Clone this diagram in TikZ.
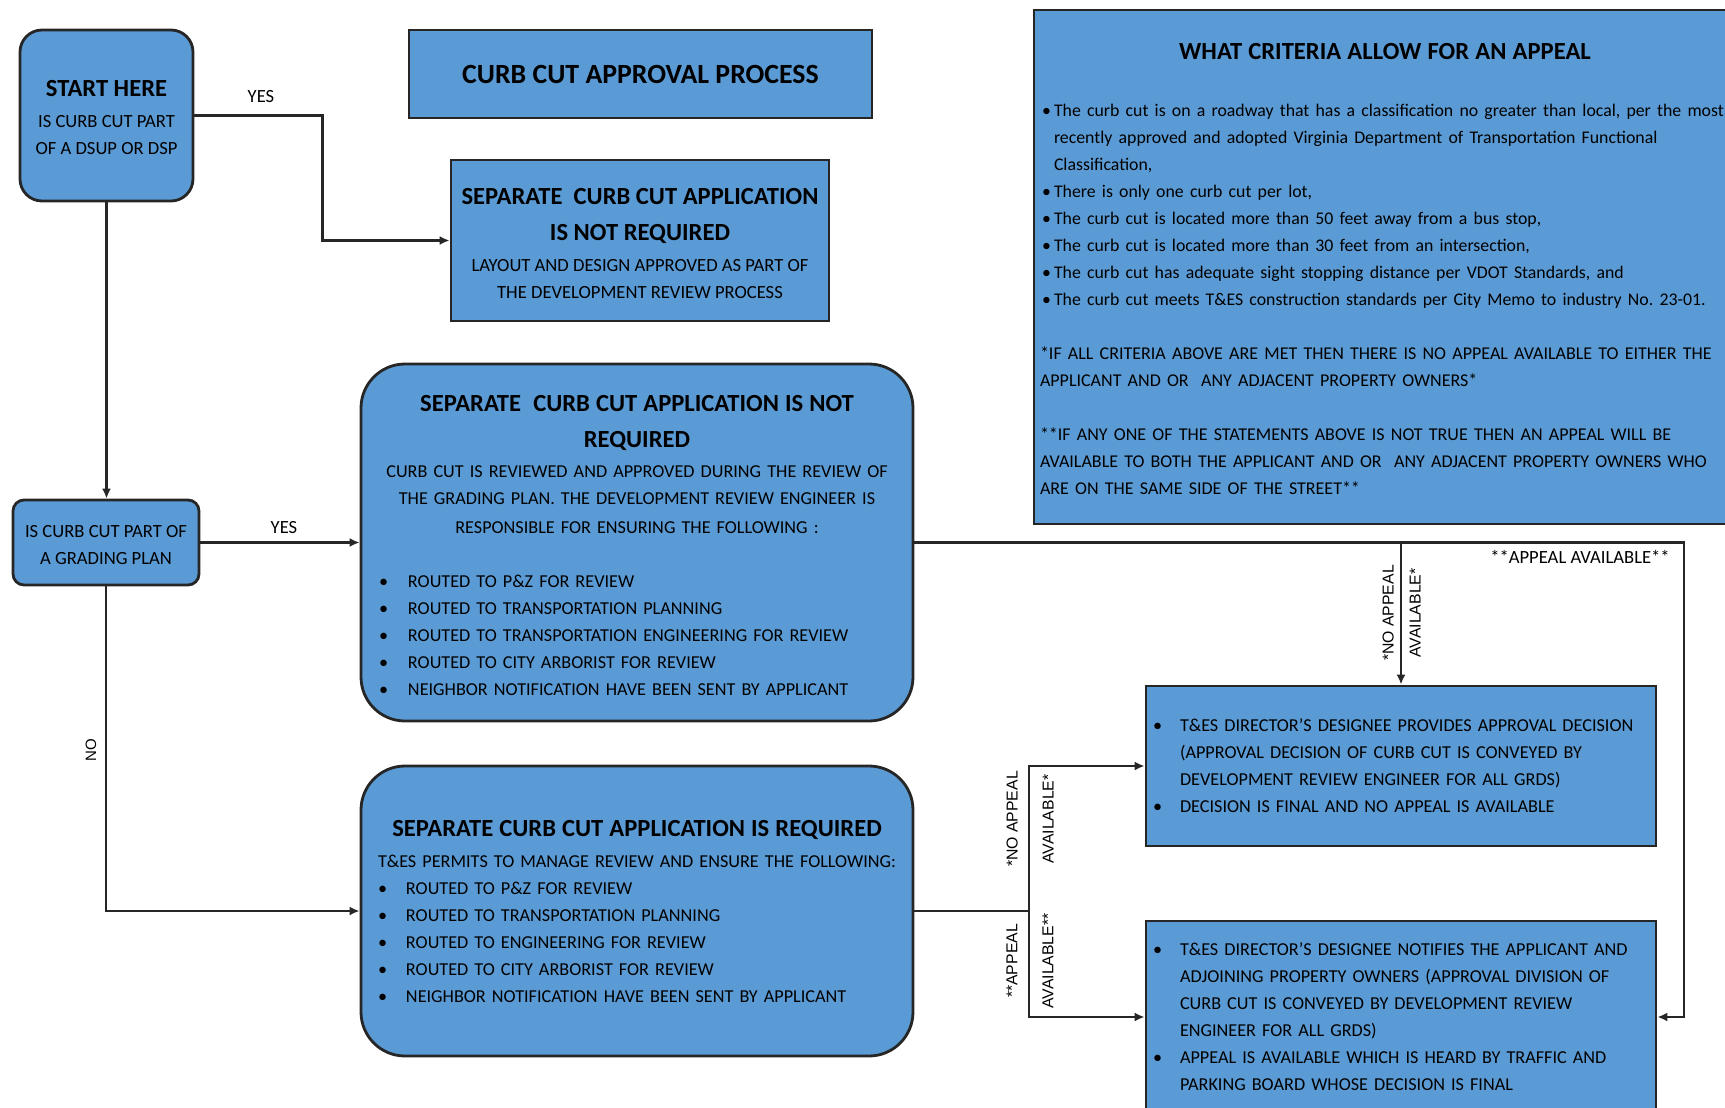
\documentclass[tikz,border=0pt]{standalone}
\usepackage{fontspec}
\setmainfont{Carlito}
\newfontfamily\arialfont{Liberation Sans}
\usetikzlibrary{arrows.meta,positioning}
\definecolor{curbblue}{HTML}{5B9BD5}

\newcommand{\hdr}{\bfseries\fontsize{12.3}{18}\selectfont}
\newcommand{\bodyfont}{\fontsize{9.3}{13.5}\selectfont}
\newcommand{\listfont}{\fontsize{9.1}{13.5}\selectfont}
\newcommand{\critfont}{\fontsize{8.9}{13.5}\selectfont}
% one left-aligned line, and one bullet line: indent, bullet room, text
\newcommand{\lline}[1]{\makebox[\linewidth][l]{#1}}
\newcommand{\bitem}[3]{\makebox[\linewidth][l]{\hspace{#1}\makebox[#2][l]{\textbullet}#3}}
% raises the top line a little, so the text sits lower in its box
\newcommand{\topgap}[1]{\rule{0pt}{#1}}

\tikzset{
  flow box/.style={
    draw=black!85,
    line width=1.4pt,
    fill=curbblue,
    inner sep=0pt,
    font=\bodyfont,
    align=center,
  },
  round box/.style={
    flow box,
    rounded corners=#1,
  },
  link/.style={
    draw=black!85,
    line width=1.1pt,
  },
  arrow/.style={
    link,
    -{Latex[length=5pt,width=4.5pt]},
  },
  tag/.style={
    font=\bodyfont,
  },
  side tag/.style={
    font=\arialfont\fontsize{7.9}{#1}\selectfont,
    rotate=90,
    align=center,
  }
}

\begin{document}
\begin{tikzpicture}[x=0.5pt,y=-0.5pt]
        \useasboundingbox (0,0) rectangle (1725,1108);

        \node [round box=11pt, minimum width=86.5pt, minimum height=85.5pt] (start) at (106.5,115.5)
          {\topgap{10pt}{\hdr START HERE}\\[2pt] IS CURB CUT PART\\OF A DSUP OR DSP};
        \node [flow box, minimum width=231.5pt, minimum height=44pt] (title) at (640.5,74)
          {\topgap{9pt}{\hdr\fontsize{13.9}{18}\selectfont CURB CUT APPROVAL PROCESS}};
        \node [flow box, minimum width=189pt, minimum height=80.5pt] (nosep) at (640,240.5)
          {\topgap{11.1pt}{\hdr SEPARATE\ \ CURB CUT APPLICATION}\\[4.5pt]{\hdr IS NOT REQUIRED}\\[2pt]
           LAYOUT AND DESIGN APPROVED AS PART OF\\THE DEVELOPMENT REVIEW PROCESS};
        \node [flow box, text width=345pt, inner xsep=3pt, minimum height=257pt] (criteria) at (1385,267)
          {\topgap{10.2pt}{\hdr WHAT CRITERIA ALLOW FOR AN APPEAL}\\[15pt]
           \critfont
           \bitem{1pt}{6pt}{The curb cut is on a roadway that has a classification no greater than local, per the most}\\
           \lline{\hspace{7pt}recently approved and adopted Virginia Department of Transportation Functional}\\
           \lline{\hspace{7pt}Classification,}\\
           \bitem{1pt}{6pt}{There is only one curb cut per lot,}\\
           \bitem{1pt}{6pt}{The curb cut is located more than 50 feet away from a bus stop,}\\
           \bitem{1pt}{6pt}{The curb cut is located more than 30 feet from an intersection,}\\
           \bitem{1pt}{6pt}{The curb cut has adequate sight stopping distance per VDOT Standards, and}\\
           \bitem{1pt}{6pt}{The curb cut meets T\&ES construction standards per City Memo to industry No.\ 23-01.}\\[13.5pt]
           \fontsize{9}{13.5}\selectfont
           \lline{*IF ALL CRITERIA ABOVE ARE MET THEN THERE IS NO APPEAL AVAILABLE TO EITHER THE}\\
           \lline{APPLICANT AND OR\ \ ANY ADJACENT PROPERTY OWNERS*}\\[13.5pt]
           \lline{**IF ANY ONE OF THE STATEMENTS ABOVE IS NOT TRUE THEN AN APPEAL WILL BE}\\
           \lline{AVAILABLE TO BOTH THE APPLICANT AND OR\ \ ANY ADJACENT PROPERTY OWNERS WHO}\\
           \lline{ARE ON THE SAME SIDE OF THE STREET**}};

        \node [round box=5.5pt, minimum width=93pt, minimum height=42.5pt] (grading) at (106,542.5)
          {\topgap{8.1pt}IS CURB CUT PART OF\\A GRADING PLAN};
        \node [round box=22pt, text width=276pt, minimum height=178.5pt, font=\listfont] (review) at (637,542.5)
          {\topgap{10.6pt}{\hdr SEPARATE\ \ CURB CUT APPLICATION IS NOT}\\[4.5pt]{\hdr REQUIRED}\\[1.5pt]
           CURB CUT IS REVIEWED AND APPROVED DURING THE REVIEW OF\\
           THE GRADING PLAN. THE DEVELOPMENT REVIEW ENGINEER IS\\[1pt]
           RESPONSIBLE FOR ENSURING THE FOLLOWING :\\[13.5pt]
           \bitem{9pt}{14.5pt}{ROUTED TO P\&Z FOR REVIEW}\\
           \bitem{9pt}{14.5pt}{ROUTED TO TRANSPORTATION PLANNING}\\
           \bitem{9pt}{14.5pt}{ROUTED TO TRANSPORTATION ENGINEERING FOR REVIEW}\\
           \bitem{9pt}{14.5pt}{ROUTED TO CITY ARBORIST FOR REVIEW}\\
           \bitem{9pt}{14.5pt}{NEIGHBOR NOTIFICATION HAVE BEEN SENT BY APPLICANT}};
        \node [round box=22pt, text width=276pt, minimum height=145pt, font=\listfont] (required) at (637,911)
          {\topgap{8.6pt}{\hdr SEPARATE CURB CUT APPLICATION IS REQUIRED}\\[2pt]
           \lline{\hspace{8.5pt}T\&ES PERMITS TO MANAGE REVIEW AND ENSURE THE FOLLOWING:}\\
           \bitem{8.5pt}{14pt}{ROUTED TO P\&Z FOR REVIEW}\\
           \bitem{8.5pt}{14pt}{ROUTED TO TRANSPORTATION PLANNING}\\
           \bitem{8.5pt}{14pt}{ROUTED TO ENGINEERING FOR REVIEW}\\
           \bitem{8.5pt}{14pt}{ROUTED TO CITY ARBORIST FOR REVIEW}\\
           \bitem{8.5pt}{14pt}{NEIGHBOR NOTIFICATION HAVE BEEN SENT BY APPLICANT}};

        \node [flow box, text width=255pt, minimum height=80pt, font=\listfont] (noappeal) at (1401,766)
          {\bitem{3.5pt}{13.5pt}{T\&ES DIRECTOR’S DESIGNEE PROVIDES APPROVAL DECISION}\\
           \lline{\hspace{17pt}(APPROVAL DECISION OF CURB CUT IS CONVEYED BY}\\
           \lline{\hspace{17pt}DEVELOPMENT REVIEW ENGINEER FOR ALL GRDS)}\\
           \bitem{3.5pt}{13.5pt}{DECISION IS FINAL AND NO APPEAL IS AVAILABLE}};
        \node [flow box, text width=255pt, minimum height=96pt, font=\listfont] (appeal) at (1401,1017)
          {\bitem{3.5pt}{13.5pt}{T\&ES DIRECTOR’S DESIGNEE NOTIFIES THE APPLICANT AND}\\
           \lline{\hspace{17pt}ADJOINING PROPERTY OWNERS (APPROVAL DIVISION OF}\\
           \lline{\hspace{17pt}CURB CUT IS CONVEYED BY DEVELOPMENT REVIEW}\\
           \lline{\hspace{17pt}ENGINEER FOR ALL GRDS)}\\
           \bitem{3.5pt}{13.5pt}{APPEAL IS AVAILABLE WHICH IS HEARD BY TRAFFIC AND}\\
           \lline{\hspace{17pt}PARKING BOARD WHOSE DECISION IS FINAL}};

        % turning points of the connectors
        \coordinate (rturn) at (1684,542.5);
        \coordinate (fork) at (review.east -| noappeal.north);
        \coordinate (split) at (1029,911);

        \draw [arrow] (start.east) -- ++(128,0) |- (nosep.west);
        \draw [arrow] (start.south) -- (start.south |- grading.north);
        \draw [arrow] (grading.east) -- (review.west);
        \draw [arrow] (grading.south) |- (required.west);
        \draw [arrow] (review.east) -- (rturn) |- (appeal.east);
        \draw [arrow] (fork) -- (noappeal.north);
        \draw [link] (required.east) -- (split);
        \draw [arrow] (split) |- (noappeal.west);
        \draw [arrow] (split) |- (appeal.west);

        \node [tag] (yes1) at (261,97) {YES};
        \node [tag] (yes2) at (284,528) {YES};
        \node [side tag=9pt, font=\arialfont\fontsize{7.5}{9}\selectfont] (no) at (91,750) {NO};
        \node [tag] (appeal1) at (1580,557) {**APPEAL AVAILABLE**};
        \node [side tag=13.5pt] (noappeal1) at (1401.5,613) {*NO APPEAL\\AVAILABLE*};
        \node [side tag=18pt] (noappeal2) at (1030,819) {*NO APPEAL\\AVAILABLE*};
        \node [side tag=18pt] (appeal2) at (1030,961) {**APPEAL\\AVAILABLE**};
      \end{tikzpicture}
\end{document}
